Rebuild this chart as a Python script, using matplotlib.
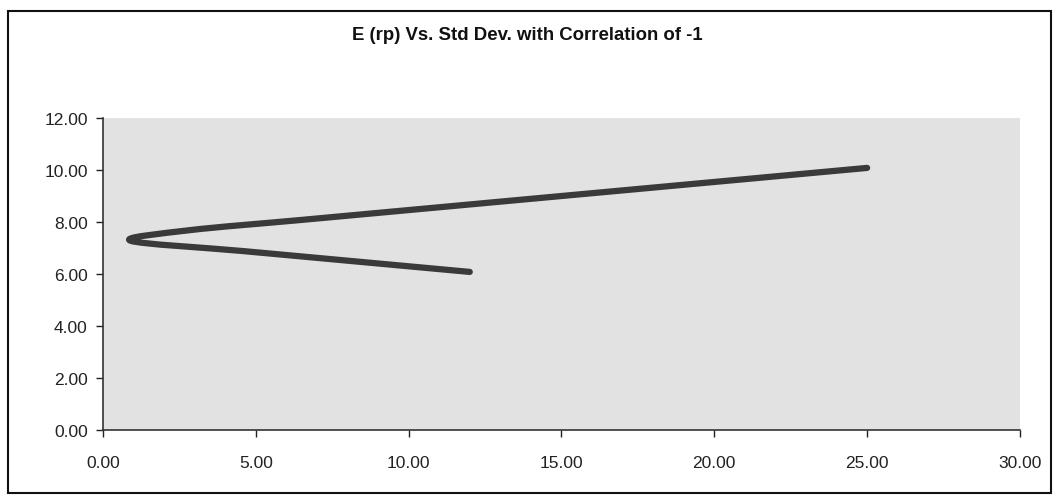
import matplotlib.pyplot as plt
from matplotlib.patches import Rectangle, PathPatch
from matplotlib.path import Path

plt.rcParams['font.family'] = ['Liberation Sans', 'DejaVu Sans']

# portfolio std dev and expected return
std_dev = [12.00, 8.30, 4.60, 0.90, 2.80, 6.50, 10.20, 13.90, 17.60, 21.30, 25.00]
exp_ret = [6.08, 6.48, 6.88, 7.28, 7.68, 8.08, 8.48, 8.88, 9.28, 9.68, 10.08]

x_ticks = [0, 5, 10, 15, 20, 25, 30]
y_ticks = [0, 2, 4, 6, 8, 10, 12]


# excel style smoothed line: cubic bezier segments through the points
def smoothPath(xs, ys):
    pts = list(zip(xs, ys))
    n = len(pts)
    verts = [pts[0]]
    codes = [Path.MOVETO]
    for i in range(n - 1):
        p0 = pts[max(i - 1, 0)]
        p1 = pts[i]
        p2 = pts[i + 1]
        p3 = pts[min(i + 2, n - 1)]
        c1 = (p1[0] + (p2[0] - p0[0]) / 6, p1[1] + (p2[1] - p0[1]) / 6)
        c2 = (p2[0] - (p3[0] - p1[0]) / 6, p2[1] - (p3[1] - p1[1]) / 6)
        verts += [c1, c2, p2]
        codes += [Path.CURVE4] * 3
    return Path(verts, codes)


fig = plt.figure(figsize=(10.55, 5.02), dpi=100)
ax = fig.add_axes([0.0976, 0.1414, 0.8692, 0.6216])
ax.set_facecolor('#e2e2e2')

ax.add_patch(PathPatch(smoothPath(std_dev, exp_ret), facecolor='none',
                       edgecolor='#3a3a3a', linewidth=4.5,
                       capstyle='round', joinstyle='round'))

ax.set_xlim(0, 30)
ax.set_ylim(0, 12)
ax.set_xticks(x_ticks)
ax.set_yticks(y_ticks)
ax.xaxis.set_major_formatter(plt.FormatStrFormatter('%.2f'))
ax.yaxis.set_major_formatter(plt.FormatStrFormatter('%.2f'))
ax.tick_params(axis='both', direction='out', length=5, width=1,
               labelsize=12.5, colors='#222222')
ax.tick_params(axis='x', pad=13)
ax.tick_params(axis='y', pad=6)

for side in ['top', 'right']:
    ax.spines[side].set_visible(False)
for side in ['left', 'bottom']:
    ax.spines[side].set_color('#333333')
    ax.spines[side].set_linewidth(1.2)

fig.text(0.5, 0.93, 'E (rp) Vs. Std Dev. with Correlation of -1',
         ha='center', va='center', fontsize=13.4, fontweight='bold', color='#111111')

# outer chart frame
fig.patches.append(Rectangle((0.008, 0.016), 0.988, 0.96, transform=fig.transFigure,
                             fill=False, edgecolor='#111111', linewidth=1.5))

fig.savefig('out.png', dpi=100)
